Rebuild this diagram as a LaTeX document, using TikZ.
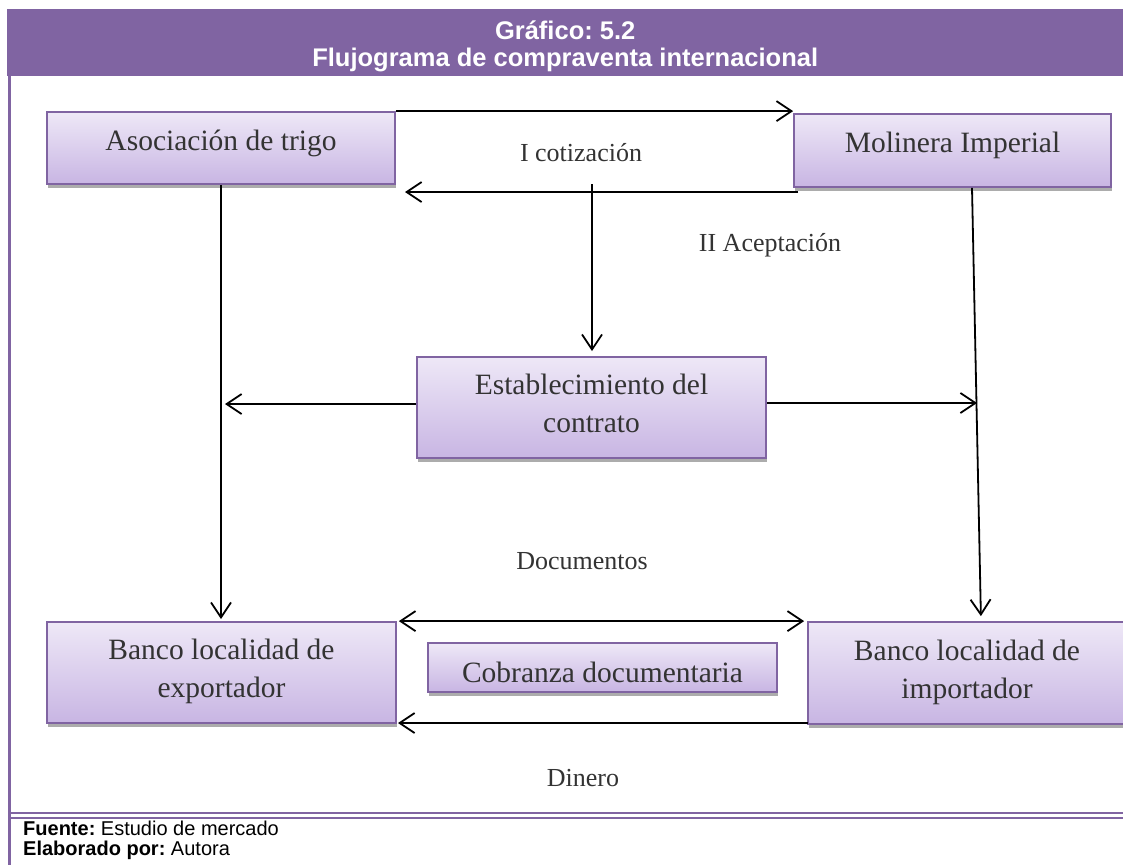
\documentclass[tikz,border=0pt]{standalone}
\usepackage{fontspec}
\setmainfont{Liberation Serif}
\newfontfamily\arialf{Liberation Sans}
\usetikzlibrary{arrows.meta,shadows}
\definecolor{hdr}{HTML}{8064A2}
\definecolor{boxtop}{HTML}{EEE8F7}
\definecolor{boxbot}{HTML}{C8B5E3}
\definecolor{txtc}{HTML}{333333}
\frenchspacing
\begin{document}
\begin{tikzpicture}[x=1pt,y=-1pt,
  box/.style={draw=hdr, line width=1.8pt, top color=boxtop, bottom color=boxbot,
    inner sep=0pt, align=center, text=txtc,
    font=\fontsize{29.5}{38}\selectfont,
    general shadow={fill=gray!65, shadow yshift=-3.5pt, shadow xshift=0.8pt}},
  lbl/.style={text=txtc, inner sep=0pt, anchor=base, font=\fontsize{26}{30}\selectfont},
  conn/.style={draw=black, line width=1.8pt, -{Straight Barb[length=15pt,width=20pt]}},
  conn2/.style={draw=black, line width=1.8pt, {Straight Barb[length=15pt,width=20pt]}-{Straight Barb[length=15pt,width=20pt]}}
]
\useasboundingbox (0,0) rectangle (1123,865);
\begin{scope}
\clip (0,0) rectangle (1123,865);
% frame
\node (hdr) [fill=hdr, anchor=north west, minimum width=1116pt, minimum height=67pt, inner sep=0pt,
  text=white, align=center, font=\arialf\bfseries\fontsize{25.5}{27}\selectfont,
  text height=53pt, text depth=6pt] at (7,9) {Gráfico: 5.2\\Flujograma de compraventa internacional};
\draw[hdr, line width=3pt] (9,76) -- (9,865);
\draw[hdr, line width=1.8pt] (9,813) -- (1123,813);
\draw[hdr, line width=1.8pt] (9,818) -- (1123,818);

% boxes
\node (aso) [box, minimum width=348pt, minimum height=72pt, text height=24pt, text depth=20pt] at (221,148) {Asociación de trigo};
\node (mol) [box, minimum width=317pt, minimum height=73pt, text height=23pt, text depth=20pt] at (952.5,150.5) {Molinera Imperial};
\node (est) [box, minimum width=349pt, minimum height=101pt, text height=55pt, text depth=6pt] at (591.5,407.5) {Establecimiento del\\contrato};
\node (exp) [box, minimum width=349pt, minimum height=101pt, text height=55pt, text depth=6pt] at (221.5,672.5) {Banco localidad de\\exportador};
\node (cob) [box, minimum width=349pt, minimum height=49pt, text height=35pt, text depth=6pt] at (602.5,667.5) {Cobranza documentaria};
\node (imp) [box, minimum width=318pt, minimum height=102pt, text height=56pt, text depth=6pt] at (967,673) {Banco localidad de\\importador};

% labels
\node (cot) [lbl] at (581,161) {I cotización};
\node (acep) [lbl] at (770,251) {II Aceptación};
\node (docs) [lbl] at (582,569) {Documentos};
\node (din) [lbl] at (583,786) {Dinero};

% connectors
\draw[conn] (aso.north east) -- (aso.north east -| mol.west);
\coordinate (retStart) at (798,192);
\coordinate (retEnd) at (405,192);
\draw[conn] (retStart) -- (retEnd);
\coordinate (vStart) at (592,184);
\draw[conn, shorten >=5pt] (vStart) -- (vStart |- est.north);
\draw[conn, shorten >=2pt] (aso.south) -- (aso.south |- exp.north);
\coordinate (sStart) at ([xshift=19.5pt]mol.south);
\coordinate (sEnd) at ([xshift=14pt]imp.north);
\draw[conn, shorten >=5pt] (sStart) -- (sEnd);
\coordinate (eL) at ([yshift=3.5pt]est.west);
\coordinate (eLend) at (225,404);
\draw[conn] (eL) -- (eLend);
\coordinate (eR) at ([yshift=4.5pt]est.east);
\coordinate (eRend) at (977,403);
\draw[conn] (eR) -- (eRend);
\draw[conn2, shorten <=2pt, shorten >=3pt] (exp.north east) -- (imp.north west);
\coordinate (dinStart) at (808,723);
\coordinate (dinEnd) at (398,723);
\draw[conn] (dinStart) -- (dinEnd);

% footer
\node (foot) [anchor=north west, inner sep=0pt, align=left, text=black,
  font=\arialf\fontsize{20}{20}\selectfont] at (23,821)
  {\textbf{Fuente:} Estudio de mercado\\\textbf{Elaborado por:} Autora};
\end{scope}
\end{tikzpicture}
\end{document}
